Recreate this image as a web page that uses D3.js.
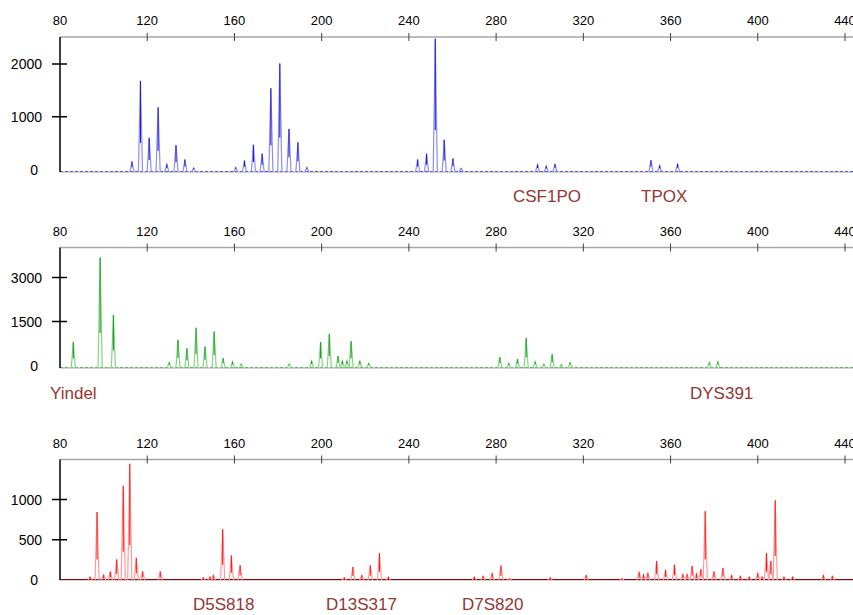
<!DOCTYPE html>
<html>
<head>
<meta charset="utf-8">
<script src="https://cdn.jsdelivr.net/npm/d3@7"></script>
<style>
  body { margin: 0; background: #fff; }
  svg { display: block; font-family: "Liberation Sans", Arial, sans-serif; }
</style>
</head>
<body>
<svg id="chart" width="853" height="615"></svg>
<script>
// x axis (fragment size, bp)
var sizeTicks = [80, 120, 160, 200, 240, 280, 320, 360, 400, 440];

// blue dye
var blueSizes   = [113, 116.9, 120.9, 125, 129, 133.2, 137.3, 141.3, 160.6, 164.6, 168.7, 172.7, 176.7, 180.8, 185, 189.1, 193.2, 244, 248.1, 252.1, 256.2, 260.2, 264, 299, 303, 307, 351, 355, 363.2];
var blueHeights = [150, 1680, 600, 1180, 100, 460, 190, 30, 40, 170, 470, 300, 1540, 2010, 770, 515, 40, 190, 300, 2480, 565, 210, 20, 95, 65, 105, 175, 75, 110];
var blueTicks = [0, 1000, 2000];
var blueLoci = ["CSF1PO", "TPOX"];

// green dye
var greenSizes   = [86.1, 98.4, 104.5, 130.1, 134.1, 138.2, 142.4, 146.5, 150.7, 154.8, 159.1, 163.1, 185.1, 195.4, 199.5, 203.5, 207.5, 209.5, 211.6, 213.5, 217.5, 221.6, 281.7, 285.8, 289.8, 293.8, 297.9, 301.9, 305.7, 309.9, 313.9, 377.8, 381.7];
var greenHeights = [800, 3680, 1720, 100, 880, 590, 1290, 645, 1160, 250, 130, 50, 50, 160, 800, 1070, 320, 150, 160, 830, 150, 80, 280, 80, 215, 935, 130, 40, 380, 30, 100, 100, 130];
var greenTicks = [0, 1500, 3000];
var greenLoci = ["Yindel", "DYS391"];

// red dye
var redSizes   = [93.8, 97, 100, 103.1, 106, 109, 112, 115, 117.9, 126, 145.7, 148.8, 150.3, 154.6, 158.6, 162.6, 210.4, 214.3, 218.4, 222.3, 226.5, 230.6, 270, 274, 278.2, 282.2, 286.1, 304.8, 321.3, 337.7, 345.6, 347.6, 349.6, 353.6, 357.7, 361.8, 365.6, 367.6, 369.9, 371.9, 373.9, 375.9, 379.9, 384, 388, 392, 396.1, 400, 402, 404, 406, 408, 412, 416, 430.1, 434.2];
var redHeights = [40, 845, 65, 105, 256, 1170, 1443, 277, 106, 106, 30, 40, 60, 630, 305, 183, 30, 162, 60, 180, 333, 40, 40, 50, 85, 180, 20, 30, 60, 20, 95, 70, 85, 235, 125, 190, 70, 70, 175, 80, 134, 855, 106, 150, 60, 50, 40, 85, 40, 337, 235, 990, 40, 40, 60, 50];
var redTicks = [0, 500, 1000];
var redLoci = ["D5S818", "D13S317", "D7S820"];

var svg = d3.select("#chart");
var W = 853;

var x = d3.scaleLinear().domain([80, 440]).range([60, 845]);

var panels = [
  { sizes: blueSizes, heights: blueHeights, ticks: blueTicks, loci: blueLoci,
    top: 37, bottom: 172, zero: 169.5, tickY: 64, dark: "#2020d0", light: "#8e8ef2", base: "#5a5ae0",
    baseDash: "3,2", lociX: [513, 641], lociY: 202 },
  { sizes: greenSizes, heights: greenHeights, ticks: greenTicks, loci: greenLoci,
    top: 247.5, bottom: 368, zero: 365.5, tickY: 277.5, dark: "#1c9e1c", light: "#86d486", base: "#5cbc5c",
    baseDash: "3,2", lociX: [50, 690], lociY: 399 },
  { sizes: redSizes, heights: redHeights, ticks: redTicks, loci: redLoci,
    top: 459.5, bottom: 580, zero: 580, tickY: 499.5, dark: "#ff1a1a", light: "#ff9a9a", base: "#9b0000",
    baseDash: null, lociX: [193, 326, 462], lociY: 610 }
];

panels.forEach(function(p) {
  var maxTick = d3.max(p.ticks);
  var y = d3.scaleLinear().domain([0, maxTick]).range([p.zero, p.tickY]);
  var g = svg.append("g");

  // top size axis
  g.append("line")
    .attr("x1", 60).attr("x2", W)
    .attr("y1", p.top).attr("y2", p.top)
    .attr("stroke", "#a6a6a6").attr("stroke-width", 1.5);
  g.selectAll(".xt").data(sizeTicks.filter(function(d) { return d > 80; }))
    .enter().append("line")
    .attr("x1", function(d) { return x(d); }).attr("x2", function(d) { return x(d); })
    .attr("y1", p.top - 4).attr("y2", p.top + 4)
    .attr("stroke", "#404040").attr("stroke-width", 1);
  g.selectAll(".xl").data(sizeTicks)
    .enter().append("text")
    .attr("x", function(d) { return x(d); })
    .attr("y", p.top - 12)
    .attr("text-anchor", "middle")
    .attr("font-size", 13)
    .attr("fill", "#000")
    .text(function(d) { return d; });

  // bottom grey baseline
  g.append("line")
    .attr("x1", 60).attr("x2", W)
    .attr("y1", p.bottom).attr("y2", p.bottom)
    .attr("stroke", "#a6a6a6").attr("stroke-width", 1);

  // noisy trace baseline
  g.append("line")
    .attr("x1", 60).attr("x2", W)
    .attr("y1", p.bottom - 0.5).attr("y2", p.bottom - 0.5)
    .attr("stroke", p.base).attr("stroke-width", 1.2)
    .attr("stroke-dasharray", p.baseDash);

  // peaks
  var hw = 0.95;
  g.selectAll(".pk").data(p.sizes)
    .enter().append("path")
    .attr("d", function(d, i) {
      return "M" + x(d - hw) + "," + p.bottom +
        "L" + x(d) + "," + y(p.heights[i]) +
        "L" + x(d + hw) + "," + p.bottom;
    })
    .attr("fill", "none")
    .attr("stroke", p.light)
    .attr("stroke-width", 1.2);
  g.selectAll(".pc").data(p.sizes)
    .enter().append("line")
    .attr("x1", function(d) { return x(d); })
    .attr("x2", function(d) { return x(d); })
    .attr("y1", function(d, i) { return y(p.heights[i]); })
    .attr("y2", function(d, i) { return y(p.heights[i] * 0.3); })
    .attr("stroke", p.dark)
    .attr("stroke-width", 1.1);

  // y axis
  g.append("line")
    .attr("x1", 60).attr("x2", 60)
    .attr("y1", p.top).attr("y2", p.bottom)
    .attr("stroke", "#000").attr("stroke-width", 1.5);
  g.selectAll(".yt").data(p.ticks.filter(function(d) { return d > 0; }))
    .enter().append("line")
    .attr("x1", 52).attr("x2", 67)
    .attr("y1", function(d) { return y(d); })
    .attr("y2", function(d) { return y(d); })
    .attr("stroke", "#000").attr("stroke-width", 1.5);
  g.selectAll(".yl").data(p.ticks)
    .enter().append("text")
    .attr("x", function(d) { return d === 0 ? 38 : 42; })
    .attr("y", function(d) { return y(d) + 5; })
    .attr("text-anchor", "end")
    .attr("font-size", 14)
    .attr("fill", "#000")
    .text(function(d) { return d; });

  // locus names
  g.selectAll(".loc").data(p.loci)
    .enter().append("text")
    .attr("x", function(d, i) { return p.lociX[i]; })
    .attr("y", p.lociY)
    .attr("font-size", 17)
    .attr("fill", "#943634")
    .text(function(d) { return d; });
});
</script>
</body>
</html>
